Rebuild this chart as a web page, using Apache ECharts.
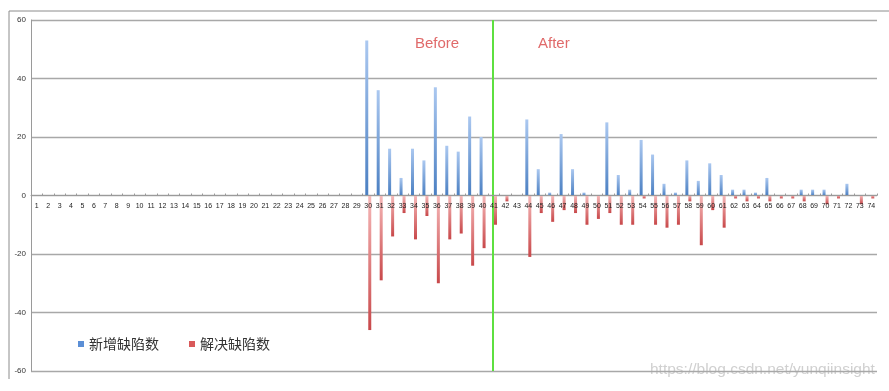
<!DOCTYPE html>
<html>
<head>
<meta charset="utf-8">
<script src="https://cdn.jsdelivr.net/npm/echarts@6/dist/echarts.min.js"></script>
<style>
html,body{margin:0;padding:0;background:#fff;}
#chart{width:889px;height:391px;}
</style>
</head>
<body>
<div id="chart"></div>
<script>
var categories = ['1','2','3','4','5','6','7','8','9','10','11','12','13','14','15','16','17','18','19','20',
  '21','22','23','24','25','26','27','28','29','30','31','32','33','34','35','36','37','38','39','40',
  '41','42','43','44','45','46','47','48','49','50','51','52','53','54','55','56','57','58','59','60',
  '61','62','63','64','65','66','67','68','69','70','71','72','73','74'];

var newDefects = [0,0,0,0,0,0,0,0,0,0, 0,0,0,0,0,0,0,0,0,0, 0,0,0,0,0,0,0,0,0,
  53,36,16,6,16,12,37,17,15,27,20,
  0,0,0,26,9,1,21,9,1,0,
  25,7,2,19,14,4,1,12,5,11,
  7,2,2,1,6,0,0,2,2,2,
  0,4,0,0];

var resolvedDefects = [0,0,0,0,0,0,0,0,0,0, 0,0,0,0,0,0,0,0,0,0, 0,0,0,0,0,0,0,0,0,
  -46,-29,-14,-6,-15,-7,-30,-15,-13,-24,-18,
  -10,-2,0,-21,-6,-9,-5,-6,-10,-8,
  -6,-10,-10,-1,-10,-11,-10,-2,-17,-5,
  -11,-1,-2,-1,-2,-1,-1,-2,0,-3,
  -1,0,-3,-1];

var yTicks = [-60,-40,-20,0,20,40,60];
var seriesNames = ['新增缺陷数','解决缺陷数'];
var splitCategory = '41';

var chart = echarts.init(document.getElementById('chart'), null, {renderer:'canvas'});
var cjk = '"Noto Sans CJK SC", "Noto Sans", sans-serif';
var gridTop = 20, gridBottom = 20, H = 391;

chart.setOption({
  animation:false,
  backgroundColor:'#ffffff',
  grid:{left:31,right:12,top:gridTop,bottom:gridBottom,containLabel:false},
  legend:{
    data:[
      {name:seriesNames[0], itemStyle:{color:'#5b8fd6'}},
      {name:seriesNames[1], itemStyle:{color:'#d9595a'}}
    ],
    left:73, top:332, icon:'rect', itemWidth:6, itemHeight:6, itemGap:30,
    textStyle:{fontFamily:cjk, fontSize:14, color:'#333'}
  },
  xAxis:{
    type:'category', data:categories, z:10,
    offset: -(H - gridTop - gridBottom) / 2,
    axisLine:{onZero:false, lineStyle:{color:'#9a9a9a', width:1}},
    axisTick:{show:true, inside:true, length:2, alignWithLabel:false, lineStyle:{color:'#9a9a9a'}},
    axisLabel:{interval:0, fontSize:7, color:'#222', margin:7, fontFamily:'"Liberation Sans", sans-serif'},
    splitLine:{show:false}
  },
  yAxis:{
    type:'value', min:yTicks[0], max:yTicks[yTicks.length-1], interval:20,
    axisLine:{show:true, lineStyle:{color:'#9a9a9a', width:1}},
    axisTick:{show:false},
    axisLabel:{fontSize:8, color:'#333', margin:5, fontFamily:'"Liberation Sans", sans-serif'},
    splitLine:{show:true, lineStyle:{color:'#a8a8a8', width:1.3}}
  },
  series:[
    {
      name:seriesNames[0], type:'bar', data:newDefects, barWidth:3, barGap:'0%',
      itemStyle:{color:new echarts.graphic.LinearGradient(0,0,0,1,[
        {offset:0,color:'#abc8f0'},{offset:1,color:'#4a7fc2'}])},
      markLine:{
        silent:true, symbol:['none','none'], label:{show:false},
        lineStyle:{color:'#5ee040', width:2, type:'solid'},
        data:[{xAxis:splitCategory}]
      }
    },
    {
      name:seriesNames[1], type:'bar', data:resolvedDefects, barWidth:3, barGap:'0%',
      itemStyle:{color:new echarts.graphic.LinearGradient(0,0,0,1,[
        {offset:0,color:'#f6b8b8'},{offset:1,color:'#c8484a'}])}
    }
  ],
  graphic:[
    {type:'line', shape:{x1:9,y1:11,x2:889,y2:11}, style:{stroke:'#8c8c8c', lineWidth:1}},
    {type:'line', shape:{x1:9,y1:11,x2:9,y2:379}, style:{stroke:'#8c8c8c', lineWidth:1}},
    {type:'text', left:415, top:36, style:{text:'Before', fill:'#e06a6a', font:'15px "Liberation Sans", sans-serif'}},
    {type:'text', left:538, top:36, style:{text:'After', fill:'#e06a6a', font:'15px "Liberation Sans", sans-serif'}},
    {type:'text', left:650, top:362, style:{text:'https://blog.csdn.net/yunqiinsight', fill:'#d0d0d0', font:'15.5px "Liberation Sans", sans-serif'}}
  ]
});
</script>
</body>
</html>
